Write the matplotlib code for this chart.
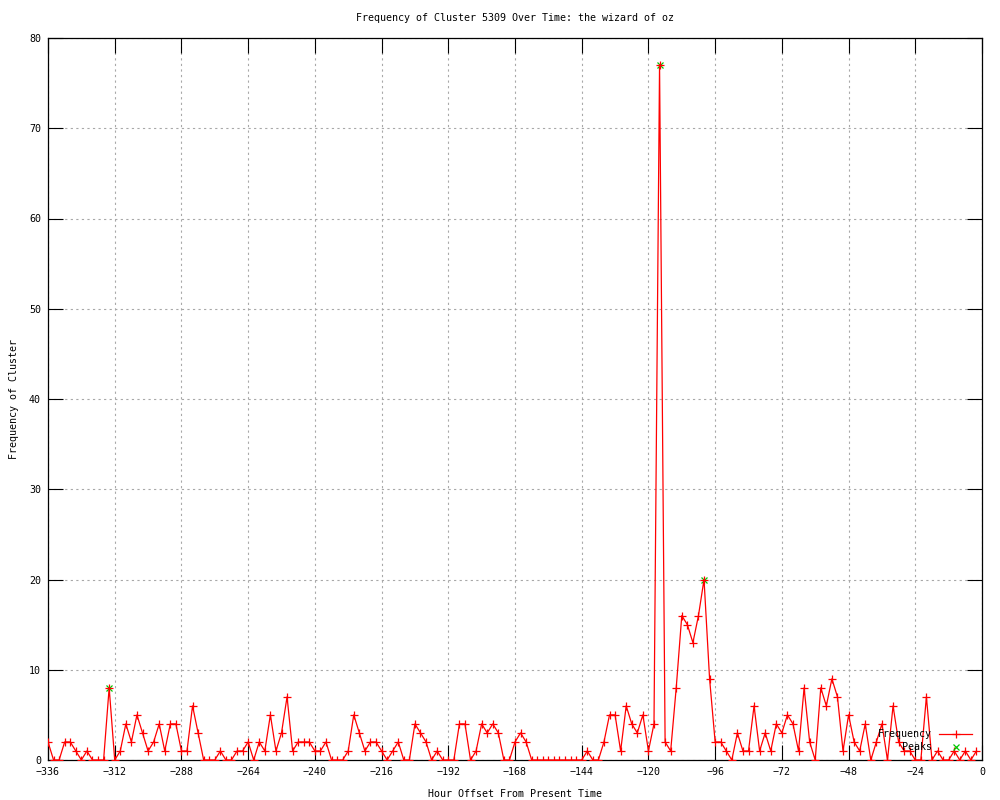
import numpy as np
import matplotlib
matplotlib.use("Agg")
import matplotlib.pyplot as plt

# frequency per 2-hour step, starting at -336 h
hours = np.arange(-336, 0, 2)
frequency = [
    2, 0, 0, 2, 2, 1, 0, 1, 0, 0, 0, 8, 0, 1, 4, 2, 5, 3, 1, 2, 4, 1, 4, 4, 1, 1, 6, 3,
    0, 0, 0, 1, 0, 0, 1, 1, 2, 0, 2, 1, 5, 1, 3, 7, 1, 2, 2, 2, 1, 1, 2, 0, 0, 0, 1, 5,
    3, 1, 2, 2, 1, 0, 1, 2, 0, 0, 4, 3, 2, 0, 1, 0, 0, 0, 4, 4, 0, 1, 4, 3, 4, 3, 0, 0,
    2, 3, 2, 0, 0, 0, 0, 0, 0, 0, 0, 0, 0, 1, 0, 0, 2, 5, 5, 1, 6, 4, 3, 5, 1, 4, 77, 2,
    1, 8, 16, 15, 13, 16, 20, 9, 2, 2, 1, 0, 3, 1, 1, 6, 1, 3, 1, 4, 3, 5, 4, 1, 8, 2, 0, 8,
    6, 9, 7, 1, 5, 2, 1, 4, 0, 2, 4, 0, 6, 2, 1, 1, 0, 0, 7, 0, 1, 0, 0, 1, 0, 1, 0, 1,
]
peak_hours = [-314, -116, -100]
peak_values = [8, 77, 20]

xticks = list(range(-336, 1, 24))
yticks = list(range(0, 81, 10))

title = "Frequency of Cluster 5309 Over Time: the wizard of oz"
labels = ["Frequency", "Peaks"]

plt.rcParams['font.family'] = ['DejaVu Sans Mono']
fs = 7.2

fig = plt.figure(figsize=(10, 8), dpi=100)
ax = fig.add_axes([0.048, 0.05, 0.934, 0.9025])

ax.plot(peak_hours, peak_values, linestyle='none', marker='x', color='#00c800',
        markersize=5, markeredgewidth=0.9, label='Peaks', zorder=3)
ax.plot(hours, frequency, color='#ff0000', linewidth=0.9, marker='+',
        markersize=5.2, markeredgewidth=0.9, label='Frequency', zorder=4)

ax.set_xlim(-336, 0)
ax.set_ylim(0, 80)
ax.set_xticks(xticks)
ax.set_yticks(yticks)
ax.tick_params(direction='in', length=11, width=0.8, top=True, right=True,
               labelsize=fs, pad=5)
ax.grid(True, color='#a8a8a8', linestyle=(0, (2, 3)), linewidth=0.8)
ax.set_axisbelow(True)
for s in ax.spines.values():
    s.set_linewidth(0.9)

ax.set_title(title, fontsize=fs, pad=12)
ax.set_xlabel("Hour Offset From Present Time", fontsize=fs, labelpad=8.5)
ax.set_ylabel("Frequency of Cluster", fontsize=fs, labelpad=7)

handles, labs = ax.get_legend_handles_labels()
order = [labs.index(l) for l in labels]
w = max(len(l) for l in labels)
ax.legend([handles[i] for i in order], [l.rjust(w) for l in labels],
          loc='lower right', bbox_to_anchor=((972 - 48) / 934, (760 - 752) / 722),
          frameon=False, markerfirst=False, fontsize=fs, numpoints=1,
          handlelength=3.3, handletextpad=0.7, labelspacing=0.3,
          borderpad=0, borderaxespad=0)

fig.savefig("out.png", dpi=100)
